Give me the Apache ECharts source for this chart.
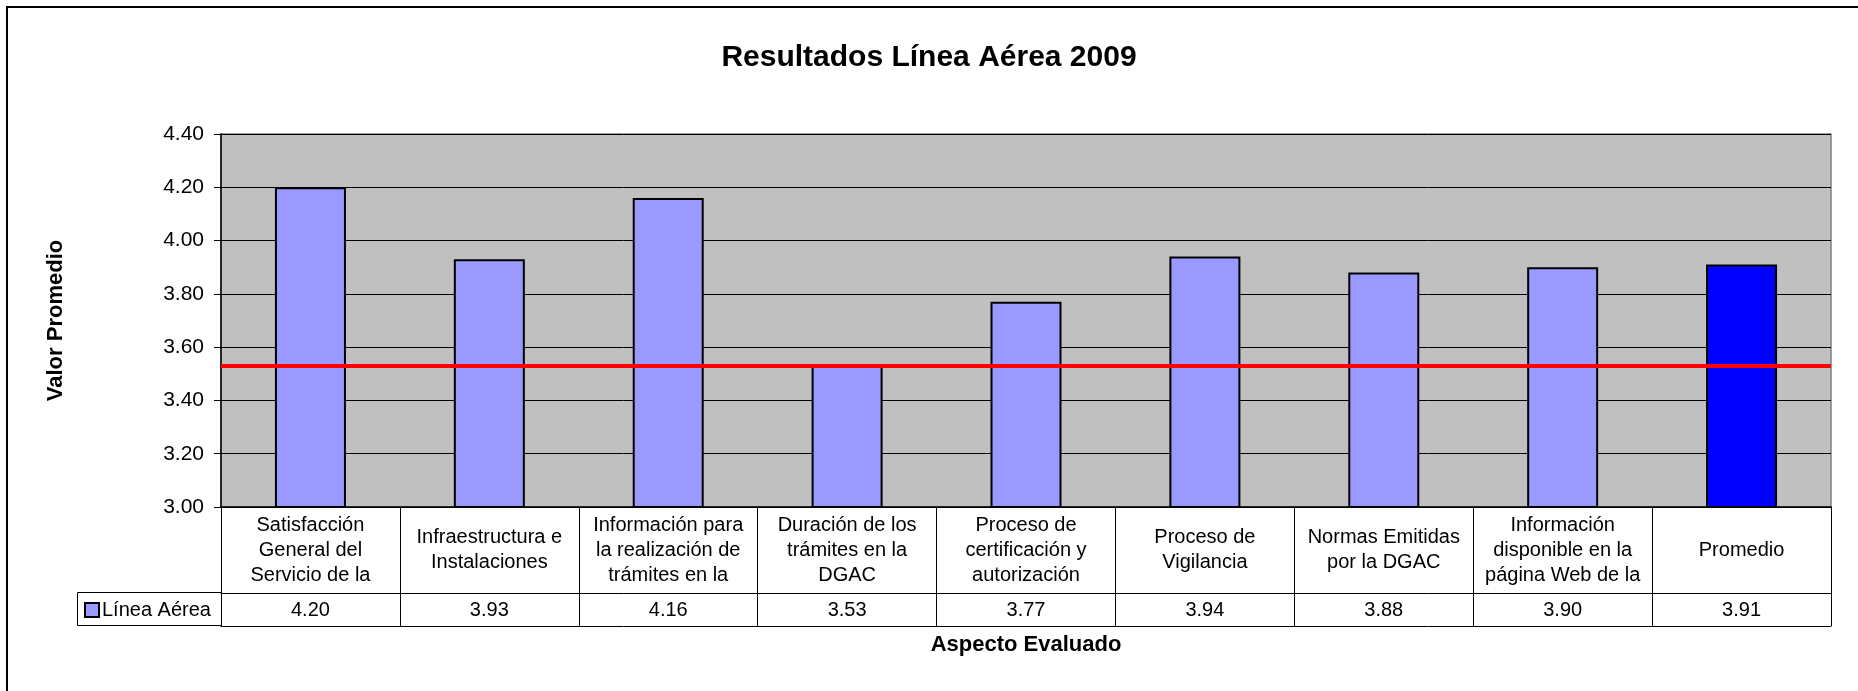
<!DOCTYPE html>
<html>
<head>
<meta charset="utf-8">
<script src="https://cdn.jsdelivr.net/npm/echarts@6/dist/echarts.min.js"></script>
<style>
  html, body { margin: 0; padding: 0; background: #fff; }
  #chart { width: 1858px; height: 691px; }
</style>
</head>
<body>
<div id="chart"></div>
<script>
const titleText = 'Resultados Línea Aérea 2009';
const seriesName = 'Línea Aérea';
const categories = [
  'Satisfacción\nGeneral del\nServicio de la',
  'Infraestructura e\nInstalaciones',
  'Información para\nla realización de\ntrámites en la',
  'Duración de los\ntrámites en la\nDGAC',
  'Proceso de\ncertificación y\nautorización',
  'Proceso de\nVigilancia',
  'Normas Emitidas\npor la DGAC',
  'Información\ndisponible en la\npágina Web de la',
  'Promedio'
];
const values = [4.20, 3.93, 4.16, 3.53, 3.77, 3.94, 3.88, 3.90, 3.91];
const referenceValue = 3.53;
const highlightCategory = 'Promedio';
const yMin = 3.0, yMax = 4.4, yStep = 0.2;

const FONT = 'Liberation Sans, Arial, sans-serif';
const chart = echarts.init(document.getElementById('chart'));

const barData = values.map((v, i) =>
  categories[i] === highlightCategory
    ? { value: v, itemStyle: { color: '#0000FF' } }
    : v
);

chart.setOption({
  animation: false,
  backgroundColor: '#ffffff',
  title: {
    text: titleText,
    left: 'center',
    top: 43,
    padding: [0, 0, 0, 14],
    textStyle: { fontFamily: FONT, fontSize: 30, fontWeight: 'bold', color: '#000' }
  },
  legend: {
    left: 79,
    top: 595,
    itemWidth: 14,
    itemHeight: 14,
    icon: 'rect',
    data: [seriesName],
    itemStyle: { borderColor: '#000', borderWidth: 2 },
    textStyle: { fontFamily: FONT, fontSize: 20, color: '#000', padding: [0, 0, 0, -2] }
  },
  graphic: [
    { type: 'rect', shape: { x: 7, y: 7, width: 2000, height: 1000 },
      style: { fill: 'none', stroke: '#000', lineWidth: 2 }, silent: true, z: 100 },
    { type: 'rect', shape: { x: 77.5, y: 592.5, width: 144, height: 33 },
      style: { fill: 'none', stroke: '#000', lineWidth: 1 }, silent: true, z: 50 }
  ],
  grid: {
    left: 221, right: 27, top: 134, bottom: 184,
    show: true, backgroundColor: '#C0C0C0', borderColor: '#808080', borderWidth: 1.5
  },
  xAxis: [
    {
      type: 'category',
      data: categories,
      position: 'bottom',
      boundaryGap: true,
      axisLine: { show: true, lineStyle: { color: '#000', width: 1.5 } },
      axisTick: { show: true, interval: 0, length: 119, lineStyle: { color: '#000', width: 1 } },
      axisLabel: {
        interval: 0, margin: 43, verticalAlign: 'middle',
        fontFamily: FONT, fontSize: 20, lineHeight: 25, color: '#000', align: 'center'
      },
      name: 'Aspecto Evaluado',
      nameLocation: 'middle',
      nameGap: 127,
      nameTextStyle: { fontFamily: FONT, fontSize: 22, fontWeight: 'bold', color: '#000' }
    },
    {
      type: 'category',
      data: values.map(v => v.toFixed(2)),
      position: 'bottom',
      offset: 86,
      axisLine: { show: true, lineStyle: { color: '#000', width: 1 } },
      axisTick: { show: false },
      axisLabel: { interval: 0, margin: 17, verticalAlign: 'middle',
        fontFamily: FONT, fontSize: 20, color: '#000' }
    },
    {
      type: 'category',
      data: categories,
      position: 'bottom',
      offset: 119,
      axisLine: { show: true, lineStyle: { color: '#000', width: 1 } },
      axisTick: { show: false },
      axisLabel: { show: false }
    }
  ],
  yAxis: {
    type: 'value',
    min: yMin, max: yMax, interval: yStep,
    name: 'Valor Promedio',
    nameLocation: 'middle',
    nameGap: 154,
    nameRotate: 90,
    nameTextStyle: { fontFamily: FONT, fontSize: 22, fontWeight: 'bold', color: '#000' },
    axisLine: { show: true, lineStyle: { color: '#000', width: 1.5 } },
    axisTick: { show: true, length: 7, lineStyle: { color: '#000' } },
    axisLabel: { margin: 17, fontFamily: FONT, fontSize: 21, color: '#000',
      formatter: v => v.toFixed(2) },
    splitLine: { show: true, lineStyle: { color: '#000', width: 1 } }
  },
  series: [
    {
      name: seriesName,
      type: 'bar',
      xAxisIndex: 0,
      data: barData,
      barWidth: 71,
      itemStyle: { color: '#9999FF', borderColor: '#000', borderWidth: 2 },
      markLine: {
        silent: true,
        symbol: 'none',
        label: { show: false },
        lineStyle: { color: '#FF0000', width: 4, type: 'solid' },
        data: [{ yAxis: referenceValue }]
      }
    }
  ]
});
</script>
</body>
</html>
